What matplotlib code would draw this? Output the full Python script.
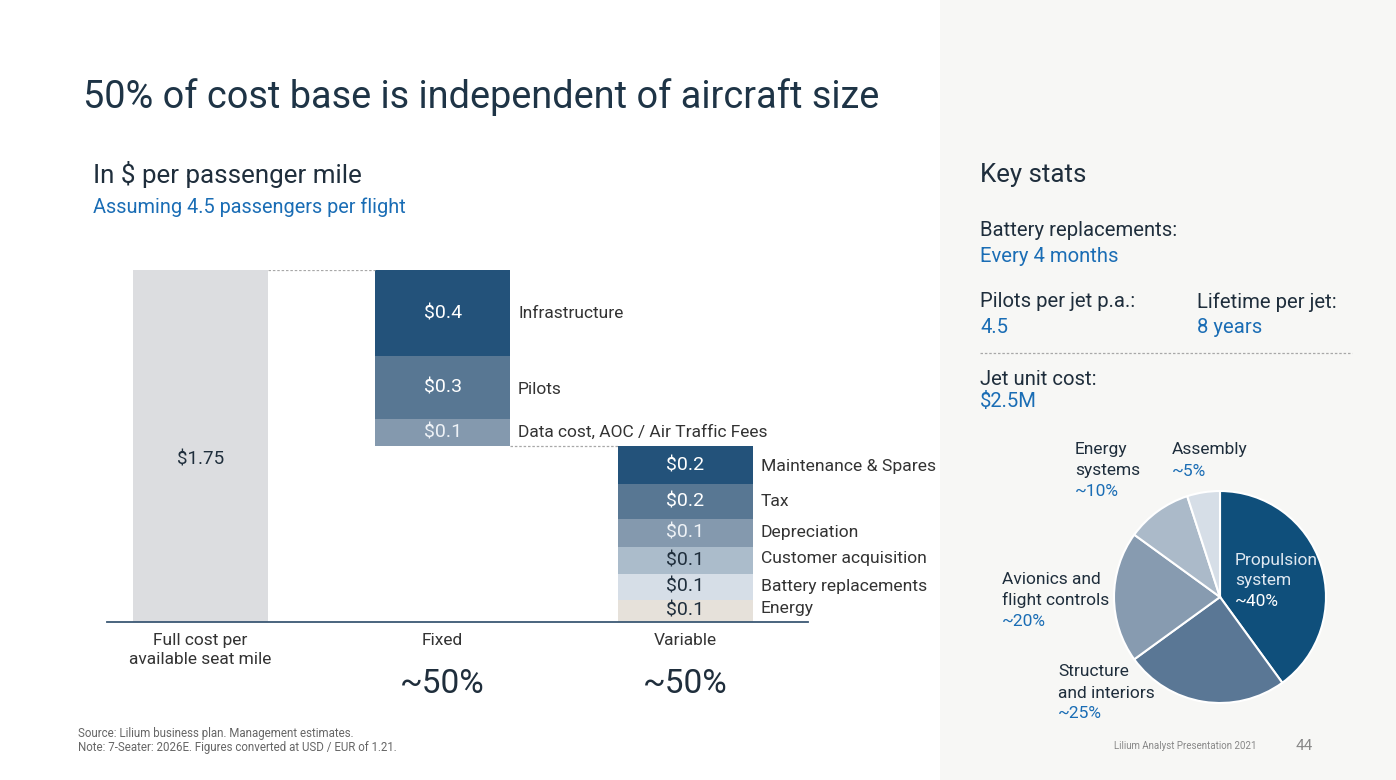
import matplotlib.pyplot as plt
from matplotlib.patches import Rectangle

# waterfall data (segment heights, labels as printed)
total = 1.75
fixed_names = ["Infrastructure", "Pilots", "Data cost, AOC / Air Traffic Fees"]
fixed_vals = [0.43, 0.31, 0.135]
fixed_lbls = ["$0.4", "$0.3", "$0.1"]
var_names = ["Maintenance & Spares", "Tax", "Depreciation", "Customer acquisition",
             "Battery replacements", "Energy"]
var_vals = [0.19, 0.175, 0.135, 0.135, 0.13, 0.11]
var_lbls = ["$0.2", "$0.2", "$0.1", "$0.1", "$0.1", "$0.1"]
cats = ["Full cost per\navailable seat mile", "Fixed", "Variable"]
shares = ["~50%", "~50%"]

# pie data
pie_names = ["Propulsion\nsystem", "Structure\nand interiors", "Avionics and\nflight controls",
             "Energy\nsystems", "Assembly"]
pie_vals = [40, 25, 20, 10, 5]
pie_lbls = ["~40%", "~25%", "~20%", "~10%", "~5%"]

W, H = 1396, 780
DARK = "#1f2e3c"
BLUE = "#1a6db5"
plt.rcParams['font.family'] = ['Roboto', 'DejaVu Sans']

fig = plt.figure(figsize=(W / 100, H / 100), dpi=100)
fig.patch.set_facecolor("white")


def P(x, y):
    return x / W, 1 - y / H


# right grey panel
fig.patches.append(Rectangle((940 / W, 0), (W - 940) / W, 1, transform=fig.transFigure,
                             facecolor="#f7f7f5", edgecolor="none", zorder=-5))

fig.text(*P(83, 97), "50% of cost base is independent of aircraft size", fontsize=27.3,
         color="#1e3446", va="center", ha="left")
fig.text(*P(93, 175), "In $ per passenger mile", fontsize=18.7, color=DARK, va="center")
fig.text(*P(93, 207), "Assuming 4.5 passengers per flight", fontsize=14.3, color=BLUE, va="center")

# waterfall axes
ax = fig.add_axes([107 / W, (H - 622) / H, (808 - 107) / W, 352 / H])
ax.set_xlim(-0.384, 2.507)
ax.set_ylim(0, total)
ax.axis("off")
bw = 0.557
ax.bar(0, total, width=bw, color="#dcdde0")
ax.text(0, 0.81, "$1.75", ha="center", va="center", fontsize=13.5, color=DARK)

seg_cols = ["#23527a", "#587793", "#8499ae", "#abbccb", "#d6dee7", "#e6e1da"]
txt_cols = ["white", "white", "#eef2f6", DARK, DARK, DARK]

top = total
for i, v in enumerate(fixed_vals):
    ax.bar(1, v, bottom=top - v, width=bw, color=seg_cols[i])
    ax.text(1, top - v / 2, fixed_lbls[i], ha="center", va="center", fontsize=14, color=txt_cols[i])
    top -= v
fixed_bottom = top

top = fixed_bottom
for i, v in enumerate(var_vals):
    ax.bar(2, v, bottom=top - v, width=bw, color=seg_cols[i])
    ax.text(2, top - v / 2, var_lbls[i], ha="center", va="center", fontsize=14, color=txt_cols[i])
    top -= v

# connectors and baseline
ax.plot([bw / 2, 1 - bw / 2], [total, total], ls=(0, (2, 1.5)), color="#a8a8a8", lw=0.9)
ax.plot([1 + bw / 2, 2 - bw / 2], [fixed_bottom, fixed_bottom], ls=(0, (2, 1.5)), color="#a8a8a8", lw=0.9)
ax.plot([-0.384, 2.507], [0, 0], color="#3b5874", lw=1.3, clip_on=False)

# segment names
fy = [313, 389, 432]
for n, y in zip(fixed_names, fy):
    fig.text(*P(518, y), n, fontsize=12.5, color="#333333", va="center")
vy = [466, 501, 533, 559, 586, 609]
for n, y in zip(var_names, vy):
    fig.text(*P(761, y), n, fontsize=12.6, color="#333333", va="center")

# categories
cx = [200, 442, 685]
for c, x in zip(cats, cx):
    fig.text(*P(x, 633), c, fontsize=12.5, color="#333333", ha="center", va="top", linespacing=1.3)
for s, x in zip(shares, cx[1:]):
    fig.text(*P(x, 684), s, fontsize=24, color=DARK, ha="center", va="center")

fig.text(*P(78, 733), "Source: Lilium business plan. Management estimates.", fontsize=8.3,
         color="#666666", va="center")
fig.text(*P(78, 747), "Note: 7-Seater: 2026E. Figures converted at USD / EUR of 1.21.", fontsize=8.3,
         color="#666666", va="center")

# key stats
fig.text(*P(980, 175), "Key stats", fontsize=18.6, color=DARK, va="center")
fig.text(*P(980, 231), "Battery replacements:", fontsize=14.6, color=DARK, va="center")
fig.text(*P(980, 256), "Every 4 months", fontsize=14.6, color=BLUE, va="center")
fig.text(*P(980, 302), "Pilots per jet p.a.:", fontsize=14.6, color=DARK, va="center")
fig.text(*P(980, 327), "4.5", fontsize=14.6, color=BLUE, va="center")
fig.text(*P(1197, 302), "Lifetime per jet:", fontsize=14.6, color=DARK, va="center")
fig.text(*P(1197, 327), "8 years", fontsize=14.6, color=BLUE, va="center")
fig.add_artist(plt.Line2D([980 / W, 1352 / W], [1 - 353 / H] * 2, ls=(0, (2, 1.5)),
                          color="#a8a8a8", lw=0.9, transform=fig.transFigure))
fig.text(*P(980, 379), "Jet unit cost:", fontsize=14.6, color=DARK, va="center")
fig.text(*P(980, 402), "$2.5M", fontsize=14.6, color=BLUE, va="center")

# pie
r = 106
pax = fig.add_axes([(1220 - r) / W, (H - 597 - r) / H, 2 * r / W, 2 * r / H])
pax.set_facecolor("none")
pie_cols = ["#0f4f7b", "#5a7795", "#879bb0", "#abbac9", "#d6dee7"]
pax.pie(pie_vals, colors=pie_cols, startangle=90, counterclock=False,
        wedgeprops=dict(edgecolor="white", linewidth=1.5))
pax.set_xlim(-1, 1)
pax.set_ylim(-1, 1)

lab_pos = [(1235, 560, "#dfe8f1", "white"), (1058, 672, DARK, BLUE), (1002, 579, DARK, BLUE),
           (1075, 450, DARK, BLUE), (1172, 450, DARK, BLUE)]
for n, l, (x, y, c1, c2) in zip(pie_names, pie_lbls, lab_pos):
    lines = n.split("\n")
    for k, ln in enumerate(lines):
        fig.text(*P(x, y + 21 * k), ln, fontsize=12.5, color=c1, va="center")
    fig.text(*P(x, y + 21 * len(lines)), l, fontsize=12.5, color=c2, va="center")

fig.text(*P(1257, 746), "Lilium Analyst Presentation 2021", fontsize=7, color="#888888",
         ha="right", va="center")
fig.text(*P(1296, 746), "44", fontsize=11, color="#888888", va="center")

fig.savefig("out.png", dpi=100)
